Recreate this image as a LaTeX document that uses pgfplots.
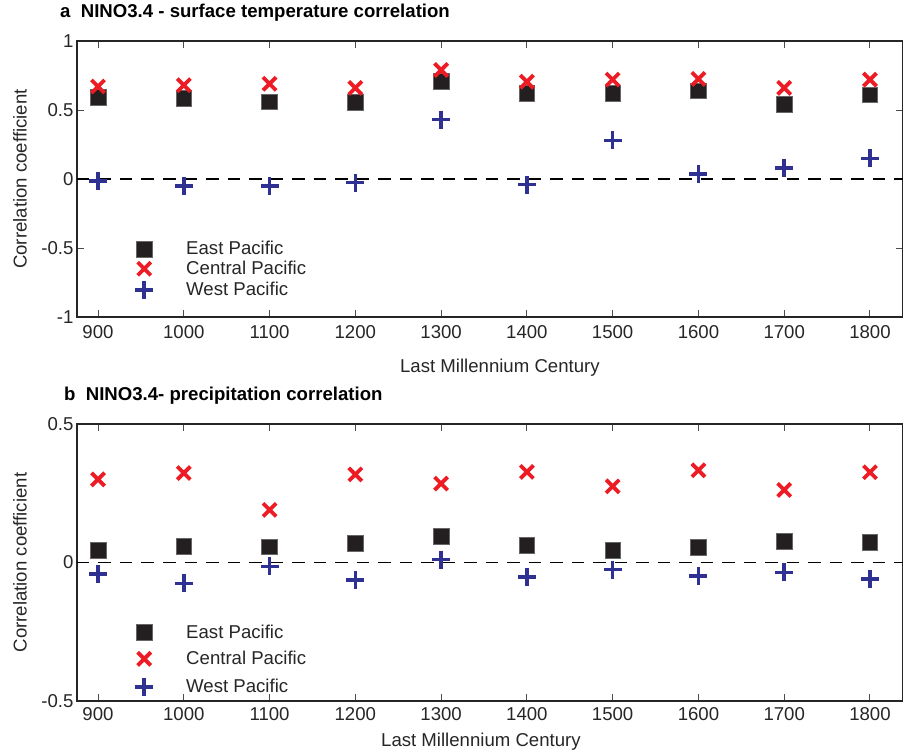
\documentclass[border=0pt]{standalone}
\usepackage{pgfplots}
\pgfplotsset{compat=1.18}
\usepackage{fontspec}
\setmainfont{Liberation Sans}
\definecolor{cred}{RGB}{237,28,36}
\definecolor{cblue}{RGB}{46,49,146}
\definecolor{cblack}{RGB}{35,31,32}
\newcommand{\ff}{\fontsize{18.6}{21}\selectfont}
\pgfplotsset{
 myax/.style={
  scale only axis, width=826pt,
  xmin=875.5, xmax=1838.5,
  xtick={900,1000,...,1800},
  tick align=inside, major tick length=7pt,
  axis line style={line width=1.2pt, black!85},
  every tick/.style={line width=1pt, black!70},
  tick label style={font=\ff, text=black!85},
  label style={font=\ff, text=black!85},
  /pgf/number format/assume math mode=true,
  /pgf/number format/1000 sep={},
  xlabel={Last Millennium Century},
  ylabel={Correlation coefficient},
  title style={font=\ff\bfseries, inner sep=0pt, anchor=base west},
  legend style={draw=none, fill=none, font=\ff, text=black!85, anchor=north west, nodes={inner sep=0pt}, column sep=0pt},
  legend cell align=left,
  legend image code/.code={\path[draw=none,fill=none] (-12pt,-6pt) (42pt,6pt); \draw[##1] plot coordinates {(0pt,0pt)};},
 },
 ep/.style={only marks, mark=square*, mark size=7.8pt, color=cblack, mark options={draw=black!60, fill=cblack, line width=0.6pt}},
 cp/.style={only marks, mark=x, mark size=9.3pt, color=cred, line width=3.8pt},
 wp/.style={only marks, mark=+, mark size=9pt, color=cblue, line width=3.5pt},
 zl/.style={black, dash pattern=on 12.5pt off 9pt, line width=1.5pt, forget plot},
}
\begin{document}
\begin{tikzpicture}
\useasboundingbox (-77pt,41pt) rectangle (826pt,-712pt);
\begin{axis}[myax, at={(0pt,0pt)}, anchor=north west, height=276pt,
  ymin=-1, ymax=1, ytick={-1,-0.5,0,0.5,1}, yticklabels={-1,-0.5,0,0.5,1},
  title={a\ \ NINO3.4 - surface temperature correlation},
  title style={at={(rel axis cs:0,1)}, xshift=-17pt, yshift=17.5pt},
  xticklabel style={yshift=-5pt},
  xlabel style={at={(rel axis cs:0.512,-0.1848)}, anchor=center},
  ylabel style={at={(rel axis cs:-0.069,0.5)}, anchor=center},
  legend style={at={(rel axis cs:0.063,0.2826)}, row sep=4.5pt},
]
\addplot[zl] coordinates {(875.5,0) (1838.5,0)};
\addplot[ep] coordinates {(900,0.59) (1000,0.585) (1100,0.56) (1200,0.555) (1300,0.71) (1400,0.62) (1500,0.62) (1600,0.64) (1700,0.54) (1800,0.61)};
\addlegendentry{East Pacific}
\addplot[cp] coordinates {(900,0.67) (1000,0.68) (1100,0.69) (1200,0.66) (1300,0.79) (1400,0.705) (1500,0.72) (1600,0.725) (1700,0.66) (1800,0.72)};
\addlegendentry{Central Pacific}
\addplot[wp] coordinates {(900,-0.015) (1000,-0.05) (1100,-0.05) (1200,-0.027) (1300,0.43) (1400,-0.04) (1500,0.28) (1600,0.035) (1700,0.08) (1800,0.15)};
\addlegendentry{West Pacific}
\end{axis}
\begin{axis}[myax, at={(0pt,-383pt)}, anchor=north west, height=277pt,
  ymin=-0.5, ymax=0.5, ytick={-0.5,0,0.5}, yticklabels={-0.5,0,0.5},
  title={b\ \ NINO3.4- precipitation correlation},
  title style={at={(rel axis cs:0,1)}, xshift=-13pt, yshift=17.5pt},
  xticklabel style={yshift=-2.5pt},
  xlabel style={at={(rel axis cs:0.489,-0.148)}, anchor=center},
  ylabel style={at={(rel axis cs:-0.069,0.5)}, anchor=center},
  legend style={at={(rel axis cs:0.063,0.285)}, row sep=11.5pt},
]
\addplot[zl] coordinates {(875.5,0) (1838.5,0)};
\addplot[ep] coordinates {(900,0.043) (1000,0.058) (1100,0.056) (1200,0.07) (1300,0.094) (1400,0.062) (1500,0.043) (1600,0.054) (1700,0.076) (1800,0.074)};
\addlegendentry{East Pacific}
\addplot[cp] coordinates {(900,0.30) (1000,0.323) (1100,0.19) (1200,0.318) (1300,0.285) (1400,0.327) (1500,0.275) (1600,0.333) (1700,0.262) (1800,0.326)};
\addlegendentry{Central Pacific}
\addplot[wp] coordinates {(900,-0.041) (1000,-0.075) (1100,-0.014) (1200,-0.063) (1300,0.01) (1400,-0.053) (1500,-0.026) (1600,-0.048) (1700,-0.036) (1800,-0.06)};
\addlegendentry{West Pacific}
\end{axis}
\end{tikzpicture}
\end{document}
